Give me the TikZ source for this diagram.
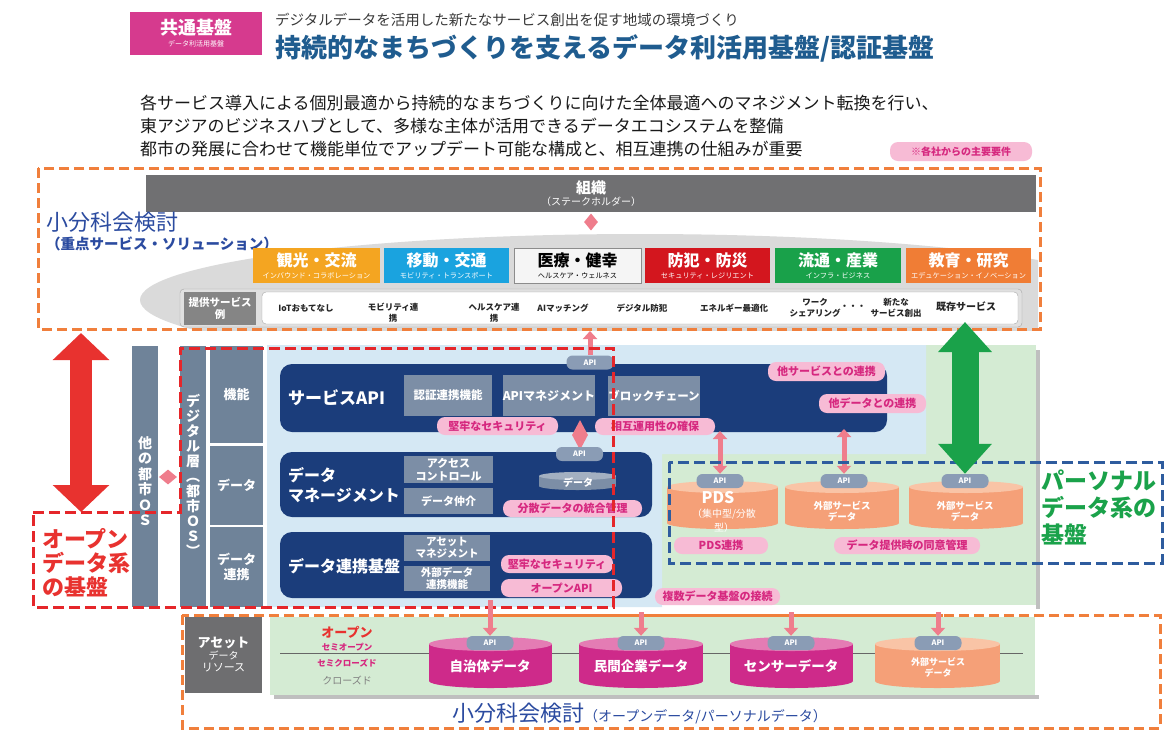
\documentclass[tikz,border=0pt]{standalone}
\usepackage{fontspec}
\setmainfont{Noto Sans CJK JP}
\usetikzlibrary{shapes.geometric,arrows.meta}
\definecolor{orangeD}{HTML}{F07F3C}
\definecolor{redD}{HTML}{E5262A}
\definecolor{blueD}{HTML}{2E5C9E}
\definecolor{navyC}{HTML}{1B3D7B}
\definecolor{slateC}{HTML}{6F8399}
\definecolor{subC}{HTML}{7C8EA6}
\definecolor{lblue}{HTML}{D5E8F4}
\definecolor{lgreen}{HTML}{D4EBD3}
\definecolor{pillC}{HTML}{F7BBD5}
\definecolor{pillT}{HTML}{D6287F}
\definecolor{apiC}{HTML}{8A9CB5}
\definecolor{pinkA}{HTML}{EF7D8C}
\definecolor{catA}{HTML}{F4A521}
\definecolor{catB}{HTML}{1AA3DF}
\definecolor{catD}{HTML}{D3161E}
\definecolor{catE}{HTML}{19A14A}
\definecolor{catF}{HTML}{F07D35}
\definecolor{hdrPink}{HTML}{D63A8E}
\definecolor{titleBlue}{HTML}{1F5C8F}
\definecolor{kentouBlue}{HTML}{2B4BA0}
\definecolor{magCyl}{HTML}{CE2A8A}
\definecolor{magTop}{HTML}{E47CB4}
\definecolor{orCyl}{HTML}{F5A078}
\definecolor{orTop}{HTML}{F9C4A6}
\definecolor{assetGray}{HTML}{6E6E70}
\definecolor{orgGray}{HTML}{707072}
\definecolor{ellGray}{HTML}{DADADA}
\definecolor{redA}{HTML}{E8322F}
\definecolor{greenA}{HTML}{1AA24A}
\definecolor{txtDark}{HTML}{3A3A3A}
\newcommand\fsz[2]{\fontsize{#1}{#2}\selectfont}
\newcommand\bx[7]{\node[#1, minimum width={#5-#3}, minimum height={#6-#4}, inner sep=0pt] (#2) at ({(#3+#5)/2},{(#4+#6)/2}) {#7};}
\newcommand\drum[8]{%
  \fill[#6] ({(#2+#4)/2},{#5-#8}) ellipse [x radius={(#4-#2)/2}, y radius=#8];
  \fill[#6] (#2,{#3+#8}) rectangle (#4,{#5-#8});
  \fill[#7] ({(#2+#4)/2},{#3+#8}) ellipse [x radius={(#4-#2)/2}, y radius=#8];
  \node[inner sep=0pt, minimum width={#4-#2}, minimum height={#5-#3}] (#1) at ({(#2+#4)/2},{(#3+#5)/2}) {};}
\begin{document}
\begin{tikzpicture}[x=1pt,y=-1pt,
  odash/.style={draw=orangeD, line width=3pt, dash pattern=on 10pt off 5pt},
  rdash/.style={draw=redD, line width=3pt, dash pattern=on 11pt off 5pt},
  bdash/.style={draw=blueD, line width=3pt, dash pattern=on 11pt off 5pt},
  cat/.style={text=white, align=center},
  slate/.style={fill=slateC, text=white, align=center, font=\fsz{13}{15}\bfseries},
  navybox/.style={fill=navyC, rounded corners=12pt},
  subbox/.style={fill=subC, text=white, align=center, font=\fsz{11.5}{13}\bfseries},
  pill/.style={fill=pillC, text=pillT, rounded corners=8pt, font=\fsz{11}{12}\bfseries},
  apip/.style={fill=apiC, text=white, rounded corners=6pt, font=\fsz{7.5}{8}\bfseries, minimum width=47pt, minimum height=14pt, inner sep=0pt},
  dia/.style={diamond, fill=pinkA, inner sep=0pt},
  svcitem/.style={font=\fsz{8.5}{11}\bfseries, align=center, inner sep=0pt, text=black!85},
  darktxt/.style={text=white, font=\fsz{16}{20}\bfseries, anchor=west, inner sep=0pt, align=left},
  vtext/.style={text=white, align=center, inner sep=0pt},
  parrow/.style={draw=pinkA, line width=5pt, -{Triangle[width=14pt,length=8pt]}},
  pdbl/.style={draw=pinkA, line width=5pt, {Triangle[width=14pt,length=8pt]}-{Triangle[width=14pt,length=8pt]}},
  rarr/.style={draw=redA, line width=22pt, {Triangle[width=55pt,length=27pt]}-{Triangle[width=55pt,length=27pt]}},
  garr/.style={draw=greenA, line width=27pt, {Triangle[width=52pt,length=30pt]}-{Triangle[width=52pt,length=30pt]}}
]
\useasboundingbox[fill=white] (0,0) rectangle (1173,732);

% ---------- header ----------
\bx{fill=hdrPink, text=white, align=center}{hdr}{130}{12}{262}{55}{{\fsz{18}{20}\bfseries 共通基盤}\\{\fsz{7}{9}データ利活用基盤}}
\node[anchor=west, inner sep=0pt, text=txtDark, font=\fsz{14.5}{16}] (sub) at (275,20) {デジタルデータを活用した新たなサービス創出を促す地域の環境づくり};
\node[anchor=west, inner sep=0pt, text=titleBlue, font=\fsz{26}{28}\bfseries] (title) at (275,48) {持続的なまちづくりを支えるデータ利活用基盤/認証基盤};

\node[anchor=west, inner sep=0pt, font=\fsz{17}{19}, text=black!90] (l1) at (140,103) {各サービス導入による個別最適から持続的なまちづくりに向けた全体最適へのマネジメント転換を行い、};
\node[anchor=west, inner sep=0pt, font=\fsz{17}{19}, text=black!90] (l2) at (140,126) {東アジアのビジネスハブとして、多様な主体が活用できるデータエコシステムを整備};
\node[anchor=west, inner sep=0pt, font=\fsz{17}{19}, text=black!90] (l3) at (140,149) {都市の発展に合わせて機能単位でアップデート可能な構成と、相互連携の仕組みが重要};
\bx{pill, font=\fsz{10}{11}\bfseries}{note}{890}{142}{1032}{161}{※各社からの主要要件}

% ---------- top section ----------
\begin{scope}
  \clip (140,215) rectangle (1038,330);
  \fill[ellGray] (640,300) ellipse [x radius=500, y radius=66];
\end{scope}
\bx{fill=orgGray, text=white, align=center}{org}{146}{175}{1036}{212}{{\fsz{15}{17}\bfseries 組織}\\{\fsz{10}{12}（ステークホルダー）}}
\node[dia, minimum width=14pt, minimum height=17pt] (d1) at (591,222) {};
\node[anchor=west, inner sep=0pt, text=kentouBlue, font=\fsz{22}{24}] (k1) at (46,222) {小分科会検討};
\node[anchor=west, inner sep=0pt, text=kentouBlue, font=\fsz{14.5}{16}\bfseries] (k2) at (46,244) {（重点サービス・ソリューション）};

\bx{cat, fill=catA}{c1}{253}{248}{380}{283}{{\fsz{16}{18}\bfseries 観光・交流}\\{\fsz{7.2}{9}インバウンド・コラボレーション}}
\bx{cat, fill=catB}{c2}{384}{248}{509}{283}{{\fsz{16}{18}\bfseries 移動・交通}\\{\fsz{7.2}{9}モビリティ・トランスポート}}
\bx{align=center, fill=black!4, draw=black!45, text=black}{c3}{514}{248}{641}{283}{{\fsz{16}{18}\bfseries 医療・健幸}\\{\fsz{7.2}{9}ヘルスケア・ウェルネス}}
\bx{cat, fill=catD}{c4}{645}{248}{770}{283}{{\fsz{16}{18}\bfseries 防犯・防災}\\{\fsz{7.2}{9}セキュリティ・レジリエント}}
\bx{cat, fill=catE}{c5}{775}{248}{901}{283}{{\fsz{16}{18}\bfseries 流通・産業}\\{\fsz{7.2}{9}インフラ・ビジネス}}
\bx{cat, fill=catF}{c6}{906}{248}{1031}{283}{{\fsz{16}{18}\bfseries 教育・研究}\\{\fsz{7.2}{9}エデュケーション・イノベーション}}

\bx{fill=black!12, draw=black!35, rounded corners=4pt}{svcrow}{180}{289}{1022}{327}{}
\bx{fill=black!48, text=white, align=center, font=\fsz{10.5}{12}\bfseries}{svclab}{184}{292}{256}{325}{提供サービス\\例}
\bx{fill=white, draw=black!35, rounded corners=4pt}{svcin}{262}{292}{1018}{324}{}
\node[svcitem] (s1) at (306,308) {IoTおもてなし};
\node[svcitem] (s2) at (393,313) {モビリティ連\\携};
\node[svcitem] (s3) at (494,313) {ヘルスケア連\\携};
\node[svcitem] (s4) at (563,308) {AIマッチング};
\node[svcitem] (s5) at (642,308) {デジタル防犯};
\node[svcitem] (s6) at (734,308) {エネルギー最適化};
\node[svcitem] (s7) at (815,308) {ワーク\\シェアリング};
\node[svcitem] (s8) at (853,307) {・・・};
\node[svcitem] (s9) at (896,308) {新たな\\サービス創出};
\node[svcitem, font=\fsz{10}{12}\bfseries] (s10) at (966,307) {既存サービス};
\draw[odash] (38,168) rectangle (1040,329);

% ---------- middle section ----------
\bx{fill=lgreen}{gpanel}{600}{345}{1036}{605}{}
\fill[black!25] (1036,350) rectangle (1040,609);
\fill[lblue] (267,345) -- (926,345) -- (926,454) -- (662,454) -- (662,607) -- (267,607) -- cycle;

\bx{fill=slateC}{other}{132}{346}{158}{607}{}
\node[vtext, font=\fsz{14}{15.5}\bfseries] (othert) at (145,481) {他\\の\\都\\市\\Ｏ\\Ｓ};
\node[dia, minimum width=18pt, minimum height=15pt] (d3) at (168,477) {};
\bx{fill=slateC}{dig}{180}{346}{206}{607}{}
\node[vtext, font=\fsz{14}{15}\bfseries] (digt) at (193,475) {デ\\ジ\\タ\\ル\\層\\︵\\都\\市\\Ｏ\\Ｓ\\︶};
\bx{slate}{r1}{210}{346}{263}{443}{機能}
\bx{slate}{r2}{210}{446}{263}{525}{データ}
\bx{slate}{r3}{210}{527}{263}{607}{データ\\連携}

\bx{navybox}{svc}{280}{364}{887}{432}{}
\bx{navybox}{dm}{280}{452}{652}{517}{}
\bx{navybox}{dl}{280}{532}{652}{598}{}
\node[darktxt, font=\fsz{17}{20}\bfseries] (svct) at (288,398) {サービスAPI};
\node[darktxt] (dmt) at (288,485) {データ\\マネージメント};
\node[darktxt] (dlt) at (288,566) {データ連携基盤};

\bx{subbox}{b1a}{404}{375}{492}{416}{認証連携機能}
\bx{subbox, font=\fsz{12}{13}\bfseries}{b1b}{504}{375}{594}{416}{APIマネジメント}
\bx{subbox}{b1c}{610}{376}{698}{416}{ブロックチェーン}
\bx{subbox, font=\fsz{11}{12.5}\bfseries}{b2a}{404}{456}{493}{483}{アクセス\\コントロール}
\bx{subbox, font=\fsz{11}{12.5}\bfseries}{b2b}{404}{488}{493}{514}{データ仲介}
\bx{subbox, font=\fsz{10.5}{12}\bfseries}{b3a}{404}{535}{490}{561}{アセット\\マネジメント}
\bx{subbox, font=\fsz{10.5}{12}\bfseries}{b3b}{404}{566}{490}{591}{外部データ\\連携機能}
\drum{dcyl}{539}{472}{616}{490}{subC}{subC!70!white}{4}
\node[vtext, font=\fsz{10}{11}\bfseries] (dcylt) at (578,483) {データ};

\bx{pill}{pl1}{437}{417}{558}{435}{堅牢なセキュリティ}
\bx{pill}{pl2}{595}{418}{715}{435}{相互運用性の確保}
\bx{pill}{pl3}{503}{500}{642}{517}{分散データの統合管理}
\bx{pill}{pl4}{501}{555}{613}{573}{堅牢なセキュリティ}
\bx{pill}{pl5}{501}{579}{622}{597}{オープンAPI}
\bx{pill}{pl6}{768}{362}{885}{381}{他サービスとの連携}
\bx{pill}{pl7}{819}{394}{926}{413}{他データとの連携}
\bx{pill}{pl8}{674}{537}{768}{554}{PDS連携}
\bx{pill}{pl9}{834}{537}{980}{554}{データ提供時の同意管理}
\bx{pill}{pl10}{655}{588}{780}{605}{複数データ基盤の接続}

\node[dia, minimum width=16pt, minimum height=30pt] (d2) at (580,435) {};
\node[apip] (api1) at (590,362.5) {API};
\node[apip] (api2) at (579.5,454) {API};

\drum{pds}{667}{481}{778}{529}{orCyl}{orTop}{6}
\drum{ext1}{785}{481}{899}{529}{orCyl}{orTop}{6}
\drum{ext2}{909}{481}{1023}{529}{orCyl}{orTop}{6}
\node[vtext, font=\fsz{16}{18}\bfseries] (pdst) at (718,498) {PDS};
\node[vtext, font=\fsz{10}{14}] (pdst2) at (724,521) {（集中型/分散\\型）};
\node[vtext, font=\fsz{9.5}{11}\bfseries] (ext1t) at (842,511) {外部サービス\\データ};
\node[vtext, font=\fsz{9.5}{11}\bfseries] (ext2t) at (965,511) {外部サービス\\データ};
\node[apip] (p1) at (720,481) {API};
\node[apip] (p2) at (844,481) {API};
\node[apip] (p3) at (965,481) {API};

\coordinate (topline) at (590,331);
\coordinate (svcb1) at (720,431);
\coordinate (svcb2) at (844,429);
\draw[parrow] (api1.north) -- (topline);
\draw[pdbl] (p1.north) -- (svcb1);
\draw[pdbl] (p2.north) -- (svcb2);

\draw[bdash] (669,462) rectangle (1162,563);
\node[anchor=north west, inner sep=0pt, text=greenA, font=\fsz{23}{27}\bfseries, align=left] (pers) at (1041,470) {パーソナル\\データ系の\\基盤};

\draw[rdash] (33,512) -- (180,512) -- (180,348) -- (613,348) -- (613,607) -- (33,607) -- cycle;
\node[anchor=north west, inner sep=0pt, text=redA, font=\fsz{22}{24}\bfseries, align=left] (open) at (42,528) {オープン\\データ系\\の基盤};

\coordinate (rtop) at (81,333);
\coordinate (rbot) at (81,512);
\draw[rarr] (rtop) -- (rbot);
\coordinate (gtop) at (965,322);
\draw[garr] (gtop) -- (p3.north);

% ---------- bottom section ----------
\draw[odash] (182,615) rectangle (1160,728);
\fill[black!25] (274,695) rectangle (1039,699);
\bx{fill=lgreen}{bpanel}{270}{617}{1035}{695}{}
\bx{fill=assetGray, text=white, align=center}{asset}{185}{617}{262}{693}{{\fsz{13}{15}\bfseries アセット}\\{\fsz{10}{12}データ}\\{\fsz{11}{13}リソース}}
\draw[black!60, line width=1pt] (280,653) -- (1023,653);
\node[inner sep=0pt, text=redA, font=\fsz{13}{14}\bfseries] (lo) at (347,632) {オープン};
\node[inner sep=0pt, text=pillT, font=\fsz{8.5}{9}\bfseries] (lso) at (347,647) {セミオープン};
\node[inner sep=0pt, text=pillT, font=\fsz{8.5}{9}\bfseries] (lsc) at (347,663) {セミクローズド};
\node[inner sep=0pt, text=black!50, font=\fsz{10}{11}] (lc) at (347,680) {クローズド};

\drum{cy1}{429}{637}{552}{688}{magCyl}{magTop}{7}
\drum{cy2}{579}{637}{703}{688}{magCyl}{magTop}{7}
\drum{cy3}{730}{637}{853}{688}{magCyl}{magTop}{7}
\drum{cy4}{875}{637}{1000}{688}{orCyl}{orTop}{7}
\node[vtext, font=\fsz{13.5}{15}\bfseries] (cy1t) at (490,666) {自治体データ};
\node[vtext, font=\fsz{13.5}{15}\bfseries] (cy2t) at (641,666) {民間企業データ};
\node[vtext, font=\fsz{13.5}{15}\bfseries] (cy3t) at (791,666) {センサーデータ};
\node[vtext, font=\fsz{9}{11}\bfseries] (cy4t) at (938,667) {外部サービス\\データ};
\node[apip] (q1) at (490,643) {API};
\node[apip] (q2) at (641,643) {API};
\node[apip] (q3) at (791,643) {API};
\node[apip] (q4) at (938,643) {API};

\draw[orangeD, line width=3pt] (460,615) -- (943,615);
\coordinate (ql1) at (490,600);
\coordinate (ql2) at (641,612);
\coordinate (ql3) at (791,612);
\coordinate (ql4) at (938,612);
\draw[parrow] (ql1) -- (q1.north);
\draw[parrow] (ql2) -- (q2.north);
\draw[parrow] (ql3) -- (q3.north);
\draw[parrow] (ql4) -- (q4.north);

\node[anchor=west, inner sep=0pt, text=kentouBlue] (kb) at (452,713) {{\fsz{22}{24}小分科会検討}{\fsz{14}{16}（オープンデータ/パーソナルデータ）}};
\end{tikzpicture}
\end{document}
